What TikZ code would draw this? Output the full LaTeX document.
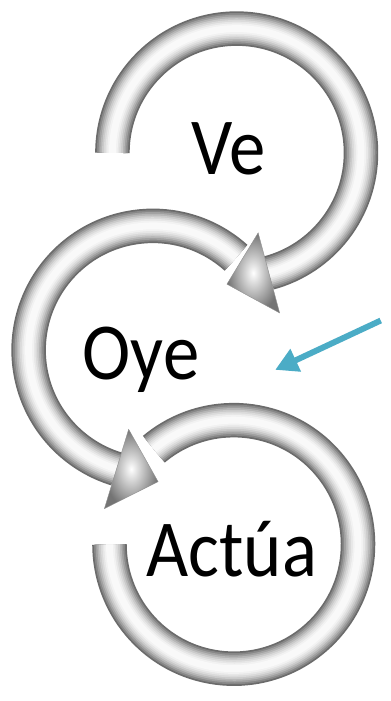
\documentclass[tikz,border=0pt]{standalone}
\usepackage{fontspec}
\setmainfont{Carlito}
\usepackage{tikz}
\usetikzlibrary{calc, arrows.meta}
\definecolor{silver}{RGB}{70,70,70}
\definecolor{aqua}{RGB}{75,172,198}

% one metallic ring: centre, start angle, end angle
\newcommand{\silverarc}[3]{
    \foreach \i in {1, 0.9, ..., 0.1} {
            \pgfmathsetmacro{\prop}{80 * \i * \i};
            \colorlet{custom}{silver!\prop!white};
            \draw[line width={35 * \i}, color=custom]
            ($(#1)+(#2:126)$) arc[start angle=#2, end angle=#3, radius=126];
        }
}
% arrow head at angle #2, pointing along #3
\newcommand{\silverhead}[3]{
    \shade[draw=silver!60!white, inner color=white, outer color=silver!75!white]
    ($(#1)+(#2:168)$) -- ($(#1)+(#2:126)+(#3:44)$) -- ($(#1)+(#2:84)$) -- cycle;
}

\begin{document}
\begin{tikzpicture}[x=1pt, y=1pt,
        word/.style={anchor=base, font=\fontsize{82}{90}\selectfont, xscale=0.9},
        pointer/.style={line width=6pt, color=aqua, -{Triangle[length=23pt, width=24pt]}}]

    \fill[white] (0, 0) rectangle (385, 701);

    \coordinate (c1) at (240, 546);
    \coordinate (c2) at (155, 346);
    \coordinate (c3) at (237, 149);

    \silverarc{c3}{130}{-180}
    \silverarc{c2}{48}{253}
    \silverhead{c2}{253}{343}
    \silverarc{c1}{180}{-75}
    \silverhead{c1}{-75}{-165}

    \node[word] (ve) at (232, 524) {Ve};
    \node[word] (oye) at (143, 316) {Oye};
    \node[word] (actua) at (235, 116) {Actúa};

    \coordinate (from) at (386, 376);
    \coordinate (to) at (279, 326);
    \draw[pointer] (from) -- (to);

\end{tikzpicture}
\end{document}
